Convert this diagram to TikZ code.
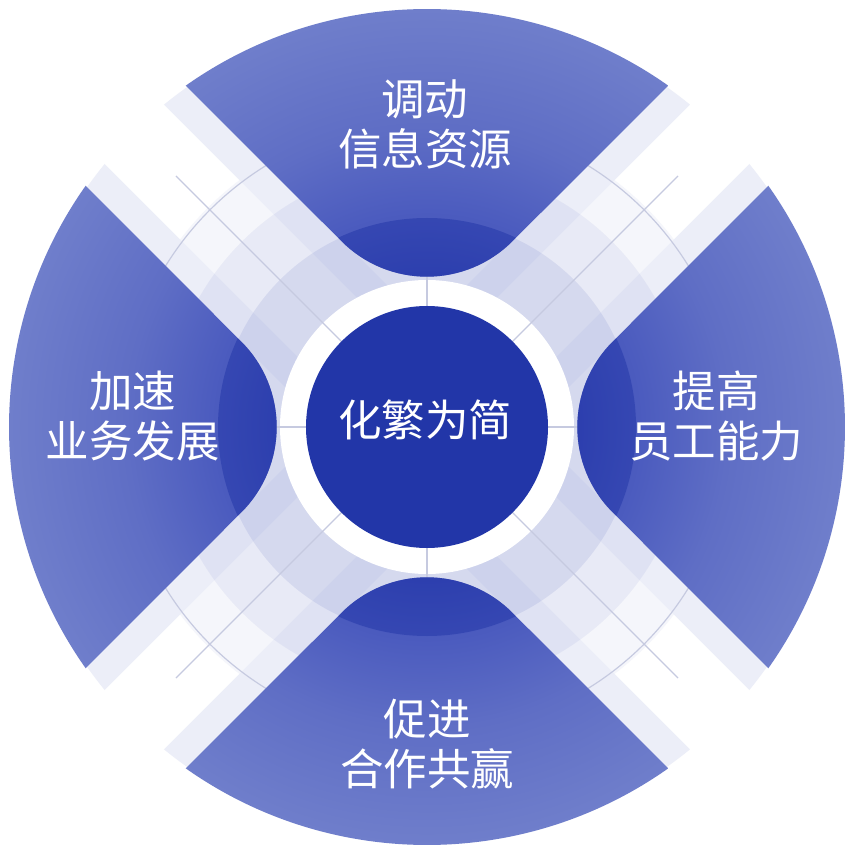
\documentclass[tikz,border=0pt]{standalone}
\usepackage{fontspec}
\newfontfamily\cjk{Noto Sans CJK SC}
\definecolor{pA}{HTML}{3B4CB7}
\definecolor{pB}{HTML}{4A5ABE}
\definecolor{pC}{HTML}{5F6EC5}
\definecolor{pD}{HTML}{6F7ECB}
\definecolor{stripc}{HTML}{ECEEF8}
\definecolor{tintc}{HTML}{F5F6FB}
\definecolor{ringc}{HTML}{3F51B5}
\definecolor{darkc}{HTML}{1A2EA3}
\definecolor{corec}{HTML}{2236A8}
\definecolor{linec}{HTML}{C6CAE0}
\pgfdeclareradialshading{petalsh}{\pgfpoint{0bp}{0bp}}{color(0bp)=(pA); color(9bp)=(pA); color(12.4bp)=(pB); color(18bp)=(pC); color(25bp)=(pD); color(50bp)=(pD)}
\tikzset{
  lab/.style={text=white, font=\cjk\fontsize{43.5}{50}\selectfont, align=center, inner sep=0pt},
  thinline/.style={draw=linec, line width=1.2pt},
  strip/.style={fill=stripc},
}
\def\petalpath{(125.26:418) -- (-85.36,185.64) arc[start angle=225,end angle=315,radius=120.7] -- (54.74:418) arc[start angle=54.74,end angle=125.26,radius=418] -- cycle}
\begin{document}
\begin{tikzpicture}[x=1pt,y=1pt]
\useasboundingbox (-427,-426) rectangle (426,427);
\fill[white] (-427,-426) rectangle (426,427);
% faint tint disk
\fill[tintc] (0,0) circle (310);
% edge strips of the diagonal bands
\begin{scope}
  \clip (0,0) circle (416);
  \foreach \a in {45,135}{
    \fill[strip, rotate=\a] (-420,42) rectangle (420,72);
    \fill[strip, rotate=\a] (-420,-72) rectangle (420,-42);
  }
\end{scope}
% translucent rings
\fill[ringc, opacity=0.07] (0,0) circle (262);
\fill[ringc, opacity=0.11] (0,0) circle (208);
% white ring
\fill[white] (0,0) circle (147);
% thin lines
\foreach \a in {0,45,...,315} \draw[thinline] (0,0) -- (\a:355);
\draw[thinline] (0,0) circle (307);
% petals
\foreach \a in {0,90,180,270}{
  \begin{scope}[rotate=\a]
    \clip \petalpath;
    \shade[shading=petalsh] (-418,-418) rectangle (418,418);
    \fill[darkc, opacity=0.42] (0,0) circle (209);
  \end{scope}
}
% core
\fill[corec] (0,0) circle (121);
\node[lab] (core) at (-2,7) {化繁为简};
\node[lab] (top) at (-2,303) {调动\\信息资源};
\node[lab] (left) at (-294,11) {加速\\业务发展};
\node[lab] (right) at (289,11) {提高\\员工能力};
\node[lab] (bottom) at (0,-317) {促进\\合作共赢};
\end{tikzpicture}
\end{document}
